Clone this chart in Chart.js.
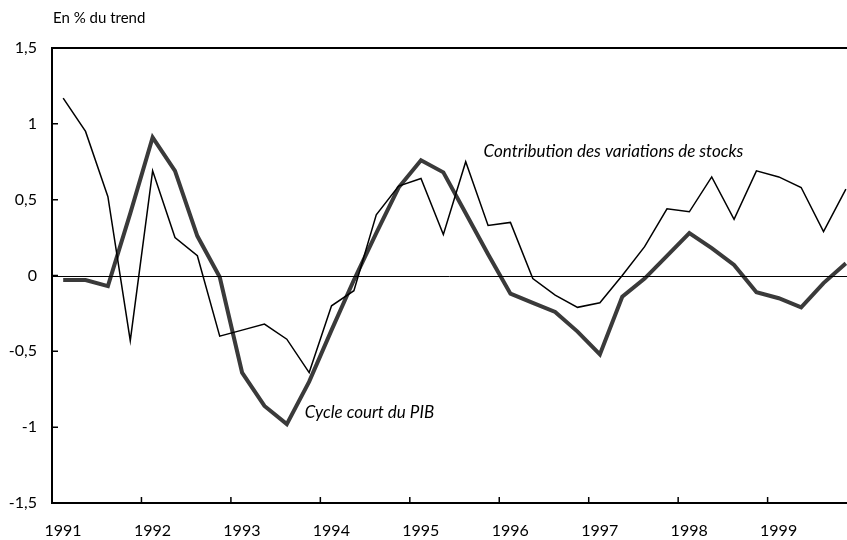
<!DOCTYPE html>
<html>
<head>
<meta charset="utf-8">
<script src="https://cdn.jsdelivr.net/npm/chart.js@4"></script>
<style>
  html, body { margin: 0; padding: 0; background: #fff; }
  #wrap { width: 847px; height: 540px; }
</style>
</head>
<body>
<div id="wrap"><canvas id="cycleChart" width="847" height="540"></canvas></div>
<script>
// quarterly data, 1991 Q1 -> 1999 Q4
var years = ['1991', '1992', '1993', '1994', '1995', '1996', '1997', '1998', '1999'];
var yTicks = [-1.5, -1, -0.5, 0, 0.5, 1, 1.5];
var stocks = [1.17, 0.95, 0.52, -0.43, 0.69, 0.25, 0.13, -0.40, -0.36, -0.32, -0.42, -0.64,
              -0.20, -0.10, 0.40, 0.59, 0.64, 0.27, 0.75, 0.33, 0.35, -0.02, -0.13, -0.21,
              -0.18, 0.00, 0.19, 0.44, 0.42, 0.65, 0.37, 0.69, 0.65, 0.58, 0.29, 0.57];
var pib = [-0.03, -0.03, -0.07, 0.41, 0.91, 0.69, 0.26, -0.01, -0.64, -0.86, -0.98, -0.70,
           -0.36, -0.03, 0.28, 0.58, 0.76, 0.68, 0.41, 0.14, -0.12, -0.18, -0.24, -0.37,
           -0.52, -0.14, -0.02, 0.13, 0.28, 0.18, 0.07, -0.11, -0.15, -0.21, -0.05, 0.08];

var FONT = 'Lato, "DejaVu Sans", sans-serif';

function toPoints(arr) {
    // each quarter sits in the middle of its slot
    return arr.map(function(v, i) { return { x: i + 0.5, y: v }; });
}

// axes, inner tick marks, zero line, title and the two italic labels
var decor = {
    id: 'decor',
    afterDraw: function(chart) {
        var ctx = chart.ctx, a = chart.chartArea;
        var xs = chart.scales.x, ys = chart.scales.y;
        ctx.save();
        // zero line
        var y0 = Math.round(ys.getPixelForValue(0)) + 0.5;
        ctx.strokeStyle = '#000';
        ctx.lineWidth = 1;
        ctx.beginPath();
        ctx.moveTo(a.left, y0);
        ctx.lineTo(a.right, y0);
        ctx.stroke();
        // frame: left, bottom, top
        ctx.lineWidth = 2;
        ctx.beginPath();
        ctx.moveTo(a.right, a.top);
        ctx.lineTo(a.left, a.top);
        ctx.lineTo(a.left, a.bottom);
        ctx.lineTo(a.right, a.bottom);
        ctx.stroke();
        // tick marks pointing inside
        ctx.lineWidth = 1.5;
        ctx.beginPath();
        yTicks.forEach(function(v) {
            var py = ys.getPixelForValue(v);
            ctx.moveTo(a.left, py);
            ctx.lineTo(a.left + 6, py);
        });
        years.forEach(function(y, k) {
            if (k === 0) return;
            var px = xs.getPixelForValue(k * 4);
            ctx.moveTo(px, a.bottom);
            ctx.lineTo(px, a.bottom - 6);
        });
        ctx.stroke();
        // title
        ctx.fillStyle = '#000';
        ctx.font = '15px ' + FONT;
        ctx.textBaseline = 'middle';
        ctx.textAlign = 'left';
        ctx.fillText('En % du trend', 53, 18);
        // series labels
        ctx.font = 'italic 17px ' + FONT;
        ctx.fillText('Contribution des variations de stocks', xs.getPixelForValue(19.3), ys.getPixelForValue(0.82));
        ctx.fillText('Cycle court du PIB', xs.getPixelForValue(11.3), ys.getPixelForValue(-0.905));
        ctx.restore();
    }
};

var ctx = document.getElementById('cycleChart').getContext('2d');
var chart = new Chart(ctx, {
    type: 'line',
    data: {
        datasets: [{
            label: 'Contribution des variations de stocks',
            data: toPoints(stocks),
            borderColor: '#000',
            borderWidth: 1.5,
            pointRadius: 0,
            tension: 0,
            order: 0
        }, {
            label: 'Cycle court du PIB',
            data: toPoints(pib),
            borderColor: '#3a3a3a',
            borderWidth: 4,
            pointRadius: 0,
            tension: 0,
            order: 1
        }]
    },
    options: {
        responsive: false,
        animation: false,
        layout: { padding: { top: 48, right: 0, left: 0, bottom: 0 } },
        plugins: {
            legend: { display: false },
            tooltip: { enabled: false }
        },
        scales: {
            x: {
                type: 'linear',
                min: 0,
                max: 35.55,
                afterBuildTicks: function(scale) {
                    scale.ticks = years.map(function(y, k) { return { value: k * 4 }; });
                },
                afterFit: function(scale) { scale.height = 37; },
                grid: { display: false, drawTicks: false },
                border: { display: false },
                ticks: {
                    color: '#000',
                    font: { family: FONT, size: 16 },
                    padding: 18,
                    labelOffset: 11,
                    maxRotation: 0,
                    autoSkip: false,
                    callback: function(v) { return years[Math.round(v / 4)]; }
                }
            },
            y: {
                min: -1.5,
                max: 1.5,
                afterBuildTicks: function(scale) {
                    scale.ticks = yTicks.map(function(v) { return { value: v }; });
                },
                afterFit: function(scale) { scale.width = 52; },
                grid: { display: false, drawTicks: false },
                border: { display: false },
                ticks: {
                    color: '#000',
                    font: { family: FONT, size: 16 },
                    padding: 15,
                    callback: function(v) { return String(v).replace('.', ','); }
                }
            }
        }
    },
    plugins: [decor]
});
</script>
</body>
</html>
